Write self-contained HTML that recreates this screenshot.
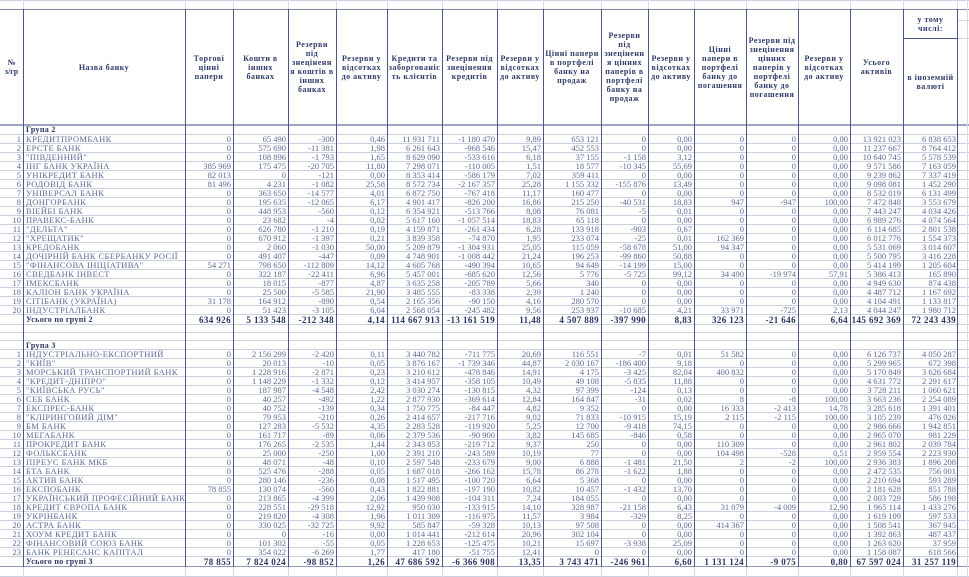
<!DOCTYPE html>
<html><head><meta charset="utf-8">
<style>
html,body{margin:0;padding:0;background:#fff;}
body{width:969px;height:577px;position:relative;overflow:hidden;font-family:"Liberation Serif","DejaVu Serif",serif;}
.hl{position:absolute;left:0;width:969px;height:1px;background:#c9d0e1;}
.vl{position:absolute;width:1px;background:#4c5884;top:9px;height:558px;}
.vlt{position:absolute;width:1px;background:#d6dbe8;}
.h{position:absolute;top:9px;height:116px;display:flex;align-items:center;justify-content:center;text-align:center;font-weight:bold;font-size:8px;letter-spacing:0.5px;line-height:9px;color:#2f3a6a;}
.r{position:absolute;left:0;width:958px;height:9px;display:grid;grid-template-columns:23px 162px 48px 55px 48px 51px 55px 55px 46px 58px 47px 46px 52px 52px 52px 53px 55px;font-size:8.5px;line-height:9px;color:#5d6a95;}
.r span{text-align:right;padding-right:2px;white-space:nowrap;overflow:visible;}
.r span.n{text-align:left;padding-left:3px;padding-right:0;letter-spacing:0.4px;overflow:hidden;}
.t{height:10px;line-height:10px;color:#2a3462;font-weight:bold;font-size:9px;letter-spacing:0.4px;}
.t span.n{font-size:8px;letter-spacing:0.3px;}
.g{font-weight:bold;font-size:8px;color:#2a3462;line-height:10px;height:10px;}
.g span.n{letter-spacing:0.3px;}
</style></head><body>

<!-- horizontal lines -->
<div class="hl" style="top:0px"></div>
<div class="hl" style="top:9px;background:#7f89aa"></div>
<div class="hl" style="top:124px;height:2px;background:#9ca4bf"></div>
<div class="hl" style="top:134px"></div>
<div class="hl" style="top:143px"></div>
<div class="hl" style="top:152px"></div>
<div class="hl" style="top:161px"></div>
<div class="hl" style="top:170px"></div>
<div class="hl" style="top:179px"></div>
<div class="hl" style="top:188px"></div>
<div class="hl" style="top:197px"></div>
<div class="hl" style="top:206px"></div>
<div class="hl" style="top:215px"></div>
<div class="hl" style="top:224px"></div>
<div class="hl" style="top:233px"></div>
<div class="hl" style="top:242px"></div>
<div class="hl" style="top:251px"></div>
<div class="hl" style="top:260px"></div>
<div class="hl" style="top:269px"></div>
<div class="hl" style="top:278px"></div>
<div class="hl" style="top:287px"></div>
<div class="hl" style="top:296px"></div>
<div class="hl" style="top:305px"></div>
<div class="hl" style="top:314px"></div>
<div class="hl" style="top:324px"></div>
<div class="hl" style="top:332px"></div>
<div class="hl" style="top:340px"></div>
<div class="hl" style="top:349px"></div>
<div class="hl" style="top:358px"></div>
<div class="hl" style="top:367px"></div>
<div class="hl" style="top:376px"></div>
<div class="hl" style="top:385px"></div>
<div class="hl" style="top:394px"></div>
<div class="hl" style="top:403px"></div>
<div class="hl" style="top:412px"></div>
<div class="hl" style="top:421px"></div>
<div class="hl" style="top:430px"></div>
<div class="hl" style="top:439px"></div>
<div class="hl" style="top:448px"></div>
<div class="hl" style="top:457px"></div>
<div class="hl" style="top:466px"></div>
<div class="hl" style="top:475px"></div>
<div class="hl" style="top:484px"></div>
<div class="hl" style="top:493px"></div>
<div class="hl" style="top:502px"></div>
<div class="hl" style="top:511px"></div>
<div class="hl" style="top:520px"></div>
<div class="hl" style="top:529px"></div>
<div class="hl" style="top:538px"></div>
<div class="hl" style="top:547px"></div>
<div class="hl" style="top:556px"></div>
<div class="hl" style="top:566px;background:#8f98b5"></div>
<div class="hl" style="top:576px"></div>
<div style="position:absolute;left:903px;width:55px;top:38px;height:1px;background:#4c5884"></div>
<div style="position:absolute;left:958px;width:11px;top:20px;height:1px;background:#d6dbe8"></div>
<div style="position:absolute;left:958px;width:11px;top:38px;height:1px;background:#d6dbe8"></div>

<!-- vertical lines -->
<div class="vl" style="left:23px"></div>
<div class="vl" style="left:185px"></div>
<div class="vl" style="left:233px"></div>
<div class="vl" style="left:288px"></div>
<div class="vl" style="left:336px"></div>
<div class="vl" style="left:387px"></div>
<div class="vl" style="left:442px"></div>
<div class="vl" style="left:497px"></div>
<div class="vl" style="left:543px"></div>
<div class="vl" style="left:601px"></div>
<div class="vl" style="left:648px"></div>
<div class="vl" style="left:694px"></div>
<div class="vl" style="left:746px"></div>
<div class="vl" style="left:798px"></div>
<div class="vl" style="left:850px"></div>
<div class="vl" style="left:903px"></div>
<div class="vl" style="left:957px"></div>
<div class="vlt" style="left:967px;top:0;height:577px"></div>
<div class="vlt" style="left:23px;top:0;height:9px"></div><div class="vlt" style="left:185px;top:0;height:9px"></div><div class="vlt" style="left:233px;top:0;height:9px"></div><div class="vlt" style="left:288px;top:0;height:9px"></div><div class="vlt" style="left:336px;top:0;height:9px"></div><div class="vlt" style="left:387px;top:0;height:9px"></div><div class="vlt" style="left:442px;top:0;height:9px"></div><div class="vlt" style="left:497px;top:0;height:9px"></div><div class="vlt" style="left:543px;top:0;height:9px"></div><div class="vlt" style="left:601px;top:0;height:9px"></div><div class="vlt" style="left:648px;top:0;height:9px"></div><div class="vlt" style="left:694px;top:0;height:9px"></div><div class="vlt" style="left:746px;top:0;height:9px"></div><div class="vlt" style="left:798px;top:0;height:9px"></div><div class="vlt" style="left:850px;top:0;height:9px"></div><div class="vlt" style="left:903px;top:0;height:9px"></div><div class="vlt" style="left:957px;top:0;height:9px"></div>
<div class="vlt" style="left:23px;top:567px;height:10px"></div><div class="vlt" style="left:185px;top:567px;height:10px"></div><div class="vlt" style="left:233px;top:567px;height:10px"></div><div class="vlt" style="left:288px;top:567px;height:10px"></div><div class="vlt" style="left:336px;top:567px;height:10px"></div><div class="vlt" style="left:387px;top:567px;height:10px"></div><div class="vlt" style="left:442px;top:567px;height:10px"></div><div class="vlt" style="left:497px;top:567px;height:10px"></div><div class="vlt" style="left:543px;top:567px;height:10px"></div><div class="vlt" style="left:601px;top:567px;height:10px"></div><div class="vlt" style="left:648px;top:567px;height:10px"></div><div class="vlt" style="left:694px;top:567px;height:10px"></div><div class="vlt" style="left:746px;top:567px;height:10px"></div><div class="vlt" style="left:798px;top:567px;height:10px"></div><div class="vlt" style="left:850px;top:567px;height:10px"></div><div class="vlt" style="left:903px;top:567px;height:10px"></div><div class="vlt" style="left:957px;top:567px;height:10px"></div>

<!-- header -->
<div class="h" style="left:0;width:23px;letter-spacing:0">№<br>з/гр</div>
<div class="h" style="left:23px;width:162px">Назва банку</div>
<div class="h" style="left:185px;width:48px">Торгові<br>цінні<br>папери</div>
<div class="h" style="left:233px;width:55px">Кошти в<br>інших<br>банках</div>
<div class="h" style="left:288px;width:48px">Резерви<br>під<br>знеціненн<br>я коштів в<br>інших<br>банках</div>
<div class="h" style="left:336px;width:51px">Резерви у<br>відсотках<br>до активу</div>
<div class="h" style="left:387px;width:55px">Кредити та<br>заборгованіс<br>ть клієнтів</div>
<div class="h" style="left:442px;width:55px">Резерви під<br>знецінення<br>кредитів</div>
<div class="h" style="left:497px;width:46px">Резерви у<br>відсотках<br>до активу</div>
<div class="h" style="left:543px;width:58px">Цінні папери<br>в портфелі<br>банку на<br>продаж</div>
<div class="h" style="left:601px;width:47px">Резерви<br>під<br>знеціненн<br>я цінних<br>паперів в<br>портфелі<br>банку на<br>продаж</div>
<div class="h" style="left:648px;width:46px">Резерви у<br>відсотках<br>до активу</div>
<div class="h" style="left:694px;width:52px">Цінні<br>папери в<br>портфелі<br>банку до<br>погашення</div>
<div class="h" style="left:746px;width:52px">Резерви під<br>знецінення<br>цінних<br>паперів у<br>портфелі<br>банку до<br>погашення</div>
<div class="h" style="left:798px;width:52px">Резерви у<br>відсотках<br>до активу</div>
<div class="h" style="left:850px;width:53px">Усього<br>активів</div>
<div class="h" style="left:903px;width:55px;top:9px;height:29px">у тому<br>числі:</div>
<div class="h" style="left:903px;width:55px;top:38px;height:87px">в іноземній<br>валюті</div>

<!-- Group 2 -->
<div class="r g" style="top:125px"><span></span><span class="n">Група 2</span></div>
<div class="r" style="top:135px"><span>1</span><span class="n">КРЕДИТПРОМБАНК</span><span>0</span><span>65 490</span><span>-300</span><span>0,46</span><span>11 931 711</span><span>-1 180 470</span><span>9,89</span><span>653 121</span><span>0</span><span>0,00</span><span>0</span><span>0</span><span>0,00</span><span>13 921 023</span><span>6 838 653</span></div>
<div class="r" style="top:144px"><span>2</span><span class="n">ЕРСТЕ БАНК</span><span>0</span><span>575 690</span><span>-11 381</span><span>1,98</span><span>6 261 643</span><span>-968 546</span><span>15,47</span><span>452 553</span><span>0</span><span>0,00</span><span>0</span><span>0</span><span>0,00</span><span>11 237 667</span><span>8 764 412</span></div>
<div class="r" style="top:153px"><span>3</span><span class="n">"ПІВДЕННИЙ"</span><span>0</span><span>108 896</span><span>-1 793</span><span>1,65</span><span>8 629 090</span><span>-533 616</span><span>6,18</span><span>37 155</span><span>-1 158</span><span>3,12</span><span>0</span><span>0</span><span>0,00</span><span>10 640 745</span><span>5 578 539</span></div>
<div class="r" style="top:162px"><span>4</span><span class="n">ІНГ БАНК УКРАЇНА</span><span>385 969</span><span>175 475</span><span>-20 705</span><span>11,80</span><span>7 298 071</span><span>-110 005</span><span>1,51</span><span>18 577</span><span>-10 345</span><span>55,69</span><span>0</span><span>0</span><span>0,00</span><span>9 571 586</span><span>7 163 059</span></div>
<div class="r" style="top:171px"><span>5</span><span class="n">УНІКРЕДИТ БАНК</span><span>82 013</span><span>0</span><span>-121</span><span>0,00</span><span>8 353 414</span><span>-586 179</span><span>7,02</span><span>359 411</span><span>0</span><span>0,00</span><span>0</span><span>0</span><span>0,00</span><span>9 239 862</span><span>7 337 419</span></div>
<div class="r" style="top:180px"><span>6</span><span class="n">РОДОВІД БАНК</span><span>81 496</span><span>4 231</span><span>-1 082</span><span>25,58</span><span>8 572 734</span><span>-2 167 357</span><span>25,28</span><span>1 155 332</span><span>-155 876</span><span>13,49</span><span>0</span><span>0</span><span>0,00</span><span>9 098 081</span><span>1 452 290</span></div>
<div class="r" style="top:189px"><span>7</span><span class="n">УНІВЕРСАЛ БАНК</span><span>0</span><span>363 650</span><span>-14 577</span><span>4,01</span><span>6 872 750</span><span>-767 418</span><span>11,17</span><span>160 477</span><span>0</span><span>0,00</span><span>0</span><span>0</span><span>0,00</span><span>8 532 019</span><span>6 131 499</span></div>
<div class="r" style="top:198px"><span>8</span><span class="n">ДОНГОРБАНК</span><span>0</span><span>195 635</span><span>-12 065</span><span>6,17</span><span>4 901 417</span><span>-826 200</span><span>16,86</span><span>215 250</span><span>-40 531</span><span>18,83</span><span>947</span><span>-947</span><span>100,00</span><span>7 472 848</span><span>3 553 679</span></div>
<div class="r" style="top:207px"><span>9</span><span class="n">ВІЕЙБІ БАНК</span><span>0</span><span>448 953</span><span>-560</span><span>0,12</span><span>6 354 921</span><span>-513 766</span><span>8,08</span><span>76 081</span><span>-5</span><span>0,01</span><span>0</span><span>0</span><span>0,00</span><span>7 443 247</span><span>4 034 426</span></div>
<div class="r" style="top:216px"><span>10</span><span class="n">ПРАВЕКС-БАНК</span><span>0</span><span>23 682</span><span>-4</span><span>0,02</span><span>5 617 160</span><span>-1 057 514</span><span>18,83</span><span>65 118</span><span>0</span><span>0,00</span><span>0</span><span>0</span><span>0,00</span><span>6 989 276</span><span>4 074 564</span></div>
<div class="r" style="top:225px"><span>11</span><span class="n">"ДЕЛЬТА"</span><span>0</span><span>626 780</span><span>-1 210</span><span>0,19</span><span>4 159 871</span><span>-261 434</span><span>6,28</span><span>133 918</span><span>-903</span><span>0,67</span><span>0</span><span>0</span><span>0,00</span><span>6 114 685</span><span>2 801 538</span></div>
<div class="r" style="top:234px"><span>12</span><span class="n">"ХРЕЩАТИК"</span><span>0</span><span>670 912</span><span>-1 397</span><span>0,21</span><span>3 839 358</span><span>-74 870</span><span>1,95</span><span>233 074</span><span>-25</span><span>0,01</span><span>162 369</span><span>0</span><span>0,00</span><span>6 012 776</span><span>1 554 373</span></div>
<div class="r" style="top:243px"><span>13</span><span class="n">КРЕДОБАНК</span><span>0</span><span>2 060</span><span>-1 030</span><span>50,00</span><span>5 209 879</span><span>-1 304 931</span><span>25,05</span><span>115 059</span><span>-58 678</span><span>51,00</span><span>94 347</span><span>0</span><span>0,00</span><span>5 531 069</span><span>3 014 607</span></div>
<div class="r" style="top:252px"><span>14</span><span class="n">ДОЧІРНІЙ БАНК СБЕРБАНКУ РОСІЇ</span><span>0</span><span>491 407</span><span>-447</span><span>0,09</span><span>4 748 901</span><span>-1 008 442</span><span>21,24</span><span>196 253</span><span>-99 860</span><span>50,88</span><span>0</span><span>0</span><span>0,00</span><span>5 500 795</span><span>3 416 228</span></div>
<div class="r" style="top:261px"><span>15</span><span class="n">"ФІНАНСОВА ІНІЦІАТИВА"</span><span>54 271</span><span>798 650</span><span>-112 809</span><span>14,12</span><span>4 605 768</span><span>-490 394</span><span>10,65</span><span>94 649</span><span>-14 199</span><span>15,00</span><span>0</span><span>0</span><span>0,00</span><span>5 414 199</span><span>1 205 604</span></div>
<div class="r" style="top:270px"><span>16</span><span class="n">СВЕДБАНК ІНВЕСТ</span><span>0</span><span>322 187</span><span>-22 411</span><span>6,96</span><span>5 457 001</span><span>-685 620</span><span>12,56</span><span>5 776</span><span>-5 725</span><span>99,12</span><span>34 490</span><span>-19 974</span><span>57,91</span><span>5 386 413</span><span>165 890</span></div>
<div class="r" style="top:279px"><span>17</span><span class="n">ІМЕКСБАНК</span><span>0</span><span>18 015</span><span>-877</span><span>4,87</span><span>3 635 258</span><span>-205 789</span><span>5,66</span><span>340</span><span>0</span><span>0,00</span><span>0</span><span>0</span><span>0,00</span><span>4 949 630</span><span>874 438</span></div>
<div class="r" style="top:288px"><span>18</span><span class="n">КАЛІОН БАНК УКРАЇНА</span><span>0</span><span>25 500</span><span>-5 585</span><span>21,90</span><span>3 485 555</span><span>-83 338</span><span>2,39</span><span>1 240</span><span>0</span><span>0,00</span><span>0</span><span>0</span><span>0,00</span><span>4 487 712</span><span>1 167 692</span></div>
<div class="r" style="top:297px"><span>19</span><span class="n">СІТІБАНК (УКРАЇНА)</span><span>31 178</span><span>164 912</span><span>-890</span><span>0,54</span><span>2 165 356</span><span>-90 150</span><span>4,16</span><span>280 570</span><span>0</span><span>0,00</span><span>0</span><span>0</span><span>0,00</span><span>4 104 491</span><span>1 133 817</span></div>
<div class="r" style="top:306px"><span>20</span><span class="n">ІНДУСТРІАЛБАНК</span><span>0</span><span>51 423</span><span>-3 105</span><span>6,04</span><span>2 568 054</span><span>-245 482</span><span>9,56</span><span>253 937</span><span>-10 685</span><span>4,21</span><span>33 971</span><span>-725</span><span>2,13</span><span>4 044 247</span><span>1 980 712</span></div>
<div class="r t" style="top:315px"><span></span><span class="n">Усього по групі 2</span><span>634 926</span><span>5 133 548</span><span>-212 348</span><span>4,14</span><span>114 667 913</span><span>-13 161 519</span><span>11,48</span><span>4 507 889</span><span>-397 990</span><span>8,83</span><span>326 123</span><span>-21 646</span><span>6,64</span><span>145 692 369</span><span>72 243 439</span></div>

<!-- Group 3 -->
<div class="r g" style="top:341px"><span></span><span class="n">Група 3</span></div>
<div class="r" style="top:350px"><span>1</span><span class="n">ІНДУСТРІАЛЬНО-ЕКСПОРТНИЙ</span><span>0</span><span>2 156 299</span><span>-2 420</span><span>0,11</span><span>3 440 782</span><span>-711 775</span><span>20,69</span><span>116 551</span><span>-7</span><span>0,01</span><span>51 582</span><span>0</span><span>0,00</span><span>6 126 737</span><span>4 050 287</span></div>
<div class="r" style="top:359px"><span>2</span><span class="n">"КИЇВ"</span><span>0</span><span>20 013</span><span>-10</span><span>0,05</span><span>3 876 167</span><span>-1 739 346</span><span>44,87</span><span>2 030 167</span><span>-186 400</span><span>9,18</span><span>0</span><span>0</span><span>0,00</span><span>5 299 965</span><span>672 398</span></div>
<div class="r" style="top:368px"><span>3</span><span class="n">МОРСЬКИЙ ТРАНСПОРТНИЙ БАНК</span><span>0</span><span>1 228 916</span><span>-2 871</span><span>0,23</span><span>3 210 612</span><span>-478 846</span><span>14,91</span><span>4 175</span><span>-3 425</span><span>82,04</span><span>400 832</span><span>0</span><span>0,00</span><span>5 170 849</span><span>3 626 684</span></div>
<div class="r" style="top:377px"><span>4</span><span class="n">"КРЕДИТ-ДНІПРО"</span><span>0</span><span>1 148 229</span><span>-1 332</span><span>0,12</span><span>3 414 957</span><span>-358 105</span><span>10,49</span><span>49 108</span><span>-5 835</span><span>11,88</span><span>0</span><span>0</span><span>0,00</span><span>4 631 772</span><span>2 291 617</span></div>
<div class="r" style="top:386px"><span>5</span><span class="n">"КИЇВСЬКА РУСЬ"</span><span>0</span><span>187 987</span><span>-4 548</span><span>2,42</span><span>3 030 274</span><span>-130 815</span><span>4,32</span><span>97 399</span><span>-124</span><span>0,13</span><span>0</span><span>0</span><span>0,00</span><span>3 728 211</span><span>1 060 621</span></div>
<div class="r" style="top:395px"><span>6</span><span class="n">СЕБ БАНК</span><span>0</span><span>40 257</span><span>-492</span><span>1,22</span><span>2 877 930</span><span>-369 614</span><span>12,84</span><span>164 847</span><span>-31</span><span>0,02</span><span>8</span><span>-8</span><span>100,00</span><span>3 663 236</span><span>2 254 089</span></div>
<div class="r" style="top:404px"><span>7</span><span class="n">ЕКСПРЕС-БАНК</span><span>0</span><span>40 752</span><span>-139</span><span>0,34</span><span>1 750 775</span><span>-84 447</span><span>4,82</span><span>9 352</span><span>0</span><span>0,00</span><span>16 333</span><span>-2 413</span><span>14,78</span><span>3 285 618</span><span>1 391 401</span></div>
<div class="r" style="top:413px"><span>8</span><span class="n">"КЛІРИНГОВИЙ ДІМ"</span><span>0</span><span>79 953</span><span>-210</span><span>0,26</span><span>2 414 657</span><span>-217 716</span><span>9,02</span><span>71 833</span><span>-10 915</span><span>15,19</span><span>2 115</span><span>-2 115</span><span>100,00</span><span>3 105 239</span><span>476 026</span></div>
<div class="r" style="top:422px"><span>9</span><span class="n">БМ БАНК</span><span>0</span><span>127 283</span><span>-5 532</span><span>4,35</span><span>2 283 528</span><span>-119 920</span><span>5,25</span><span>12 700</span><span>-9 418</span><span>74,15</span><span>0</span><span>0</span><span>0,00</span><span>2 986 666</span><span>1 942 851</span></div>
<div class="r" style="top:431px"><span>10</span><span class="n">МЕГАБАНК</span><span>0</span><span>161 717</span><span>-89</span><span>0,06</span><span>2 379 536</span><span>-90 900</span><span>3,82</span><span>145 685</span><span>-846</span><span>0,58</span><span>0</span><span>0</span><span>0,00</span><span>2 965 070</span><span>981 229</span></div>
<div class="r" style="top:440px"><span>11</span><span class="n">ПРОКРЕДИТ БАНК</span><span>0</span><span>176 265</span><span>-2 535</span><span>1,44</span><span>2 343 853</span><span>-219 712</span><span>9,37</span><span>250</span><span>0</span><span>0,00</span><span>110 309</span><span>0</span><span>0,00</span><span>2 961 802</span><span>2 039 784</span></div>
<div class="r" style="top:449px"><span>12</span><span class="n">ФОЛЬКСБАНК</span><span>0</span><span>25 000</span><span>-250</span><span>1,00</span><span>2 391 210</span><span>-243 589</span><span>10,19</span><span>77</span><span>0</span><span>0,00</span><span>104 498</span><span>-528</span><span>0,51</span><span>2 959 554</span><span>2 223 930</span></div>
<div class="r" style="top:458px"><span>13</span><span class="n">ПІРЕУС БАНК МКБ</span><span>0</span><span>48 071</span><span>-48</span><span>0,10</span><span>2 597 548</span><span>-233 679</span><span>9,00</span><span>6 888</span><span>-1 481</span><span>21,50</span><span>2</span><span>-2</span><span>100,00</span><span>2 936 383</span><span>1 896 208</span></div>
<div class="r" style="top:467px"><span>14</span><span class="n">БТА БАНК</span><span>0</span><span>525 476</span><span>-288</span><span>0,05</span><span>1 687 018</span><span>-266 162</span><span>15,78</span><span>86 278</span><span>-1 622</span><span>1,88</span><span>0</span><span>0</span><span>0,00</span><span>2 472 535</span><span>756 001</span></div>
<div class="r" style="top:476px"><span>15</span><span class="n">АКТИВ БАНК</span><span>0</span><span>280 146</span><span>-236</span><span>0,08</span><span>1 517 495</span><span>-100 720</span><span>6,64</span><span>5 368</span><span>0</span><span>0,00</span><span>0</span><span>0</span><span>0,00</span><span>2 210 694</span><span>593 289</span></div>
<div class="r" style="top:485px"><span>16</span><span class="n">ЕКСПОБАНК</span><span>78 855</span><span>130 074</span><span>-560</span><span>0,43</span><span>1 822 881</span><span>-197 190</span><span>10,82</span><span>10 457</span><span>-1 432</span><span>13,70</span><span>0</span><span>0</span><span>0,00</span><span>2 181 628</span><span>851 788</span></div>
<div class="r" style="top:494px"><span>17</span><span class="n">УКРАЇНСЬКИЙ ПРОФЕСІЙНИЙ БАНК</span><span>0</span><span>213 865</span><span>-4 399</span><span>2,06</span><span>1 439 908</span><span>-104 311</span><span>7,24</span><span>184 055</span><span>0</span><span>0,00</span><span>0</span><span>0</span><span>0,00</span><span>2 003 729</span><span>586 198</span></div>
<div class="r" style="top:503px"><span>18</span><span class="n">КРЕДИТ ЄВРОПА БАНК</span><span>0</span><span>228 551</span><span>-29 518</span><span>12,92</span><span>950 030</span><span>-133 915</span><span>14,10</span><span>328 987</span><span>-21 158</span><span>6,43</span><span>31 079</span><span>-4 009</span><span>12,90</span><span>1 965 114</span><span>1 433 276</span></div>
<div class="r" style="top:512px"><span>19</span><span class="n">УКРІНБАНК</span><span>0</span><span>219 820</span><span>-4 308</span><span>1,96</span><span>1 011 309</span><span>-116 975</span><span>11,57</span><span>3 984</span><span>-329</span><span>8,25</span><span>0</span><span>0</span><span>0,00</span><span>1 619 109</span><span>597 533</span></div>
<div class="r" style="top:521px"><span>20</span><span class="n">АСТРА БАНК</span><span>0</span><span>330 025</span><span>-32 725</span><span>9,92</span><span>585 847</span><span>-59 328</span><span>10,13</span><span>97 508</span><span>0</span><span>0,00</span><span>414 367</span><span>0</span><span>0,00</span><span>1 508 541</span><span>367 945</span></div>
<div class="r" style="top:530px"><span>21</span><span class="n">ХОУМ КРЕДИТ БАНК</span><span>0</span><span>0</span><span>-16</span><span>0,00</span><span>1 014 441</span><span>-212 614</span><span>20,96</span><span>302 104</span><span>0</span><span>0,00</span><span>0</span><span>0</span><span>0,00</span><span>1 392 863</span><span>487 437</span></div>
<div class="r" style="top:539px"><span>22</span><span class="n">ФІНАНСОВИЙ СОЮЗ БАНК</span><span>0</span><span>101 302</span><span>-55</span><span>0,05</span><span>1 228 653</span><span>-125 475</span><span>10,21</span><span>15 697</span><span>-3 938</span><span>25,09</span><span>0</span><span>0</span><span>0,00</span><span>1 263 620</span><span>37 959</span></div>
<div class="r" style="top:548px"><span>23</span><span class="n">БАНК РЕНЕСАНС КАПІТАЛ</span><span>0</span><span>354 022</span><span>-6 269</span><span>1,77</span><span>417 180</span><span>-51 755</span><span>12,41</span><span>0</span><span>0</span><span>0,00</span><span>0</span><span>0</span><span>0,00</span><span>1 158 087</span><span>618 566</span></div>
<div class="r t" style="top:557px"><span></span><span class="n">Усього по групі 3</span><span>78 855</span><span>7 824 024</span><span>-98 852</span><span>1,26</span><span>47 686 592</span><span>-6 366 908</span><span>13,35</span><span>3 743 471</span><span>-246 961</span><span>6,60</span><span>1 131 124</span><span>-9 075</span><span>0,80</span><span>67 597 024</span><span>31 257 119</span></div>

</body></html>
